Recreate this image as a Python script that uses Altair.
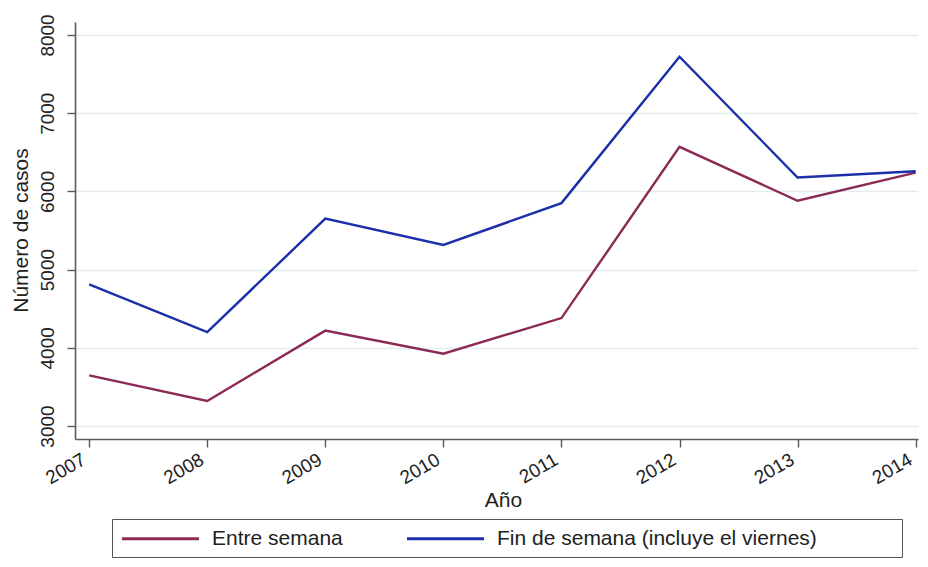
import altair as alt
import pandas as pd

years = [2007, 2008, 2009, 2010, 2011, 2012, 2013, 2014]
entre_semana = [3647, 3320, 4220, 3925, 4380, 6570, 5880, 6240]
fin_de_semana = [4810, 4200, 5652, 5315, 5850, 7722, 6178, 6258]
series_names = ["Entre semana", "Fin de semana (incluye el viernes)"]
series_colors = ["#8B2A55", "#1C2FAA"]
y_ticks = [3000, 4000, 5000, 6000, 7000, 8000]

rows = []
for yr, a, b in zip(years, entre_semana, fin_de_semana):
    rows.append({"Año": yr, "serie": series_names[0], "casos": a})
    rows.append({"Año": yr, "serie": series_names[1], "casos": b})
df = pd.DataFrame(rows)

FONT = "Liberation Sans"

chart = alt.Chart(df).mark_line(strokeWidth=2.4).encode(
    x=alt.X(
        "Año:Q",
        scale=alt.Scale(domain=[2006.88, 2014.02], nice=False, zero=False),
        axis=alt.Axis(
            values=years, format="d", title="Año",
            labelAngle=330, labelAlign="right", labelBaseline="top",
            labelPadding=3, labelOffset=-10, tickSize=8, grid=False,
            titleX=428, titleY=67, titleBaseline="alphabetic",
            titleAlign="center",
        ),
    ),
    y=alt.Y(
        "casos:Q",
        scale=alt.Scale(domain=[2834, 8166], nice=False, zero=False),
        axis=alt.Axis(
            values=y_ticks, format="d", title="Número de casos",
            labelAngle=270, labelAlign="center", labelBaseline="alphabetic",
            labelPadding=14, tickSize=8, grid=True,
            titleAngle=270, titleX=-48, titleY=208,
            titleAlign="center", titleBaseline="alphabetic",
        ),
    ),
    color=alt.Color(
        "serie:N",
        scale=alt.Scale(domain=series_names, range=series_colors),
        legend=alt.Legend(
            title="\u00a0", titleOrient="right", titlePadding=77,
            titleFontSize=21,
            orient="none", legendX=37, legendY=497,
            direction="horizontal", columns=2,
            symbolType="M-4,0H4", symbolSize=370, symbolStrokeWidth=3,
            symbolOffset=29,
            labelFontSize=21, labelFont=FONT, labelColor="#222222",
            labelOffset=40, columnPadding=58,
            padding=8, strokeColor="#555555", fillColor="white",
            labelLimit=700,
        ),
    ),
    detail="serie:N",
).properties(
    width=843, height=417,
    background="white",
    autosize=alt.AutoSizeParams(type="none"),
    padding={"left": 67, "top": 14, "right": 2, "bottom": 119},
).configure_view(
    stroke=None
).configure_axis(
    labelFont=FONT, titleFont=FONT,
    labelFontSize=19, titleFontSize=21,
    labelColor="#222222", titleColor="#222222",
    titleFontWeight="normal",
    domainColor="#5a5a5a", domainWidth=1.6,
    tickColor="#5a5a5a", tickWidth=1.4,
    gridColor="#e4eded", gridWidth=1.5,
)

chart.save("out.html", embed_options={"renderer": "svg", "actions": False})
